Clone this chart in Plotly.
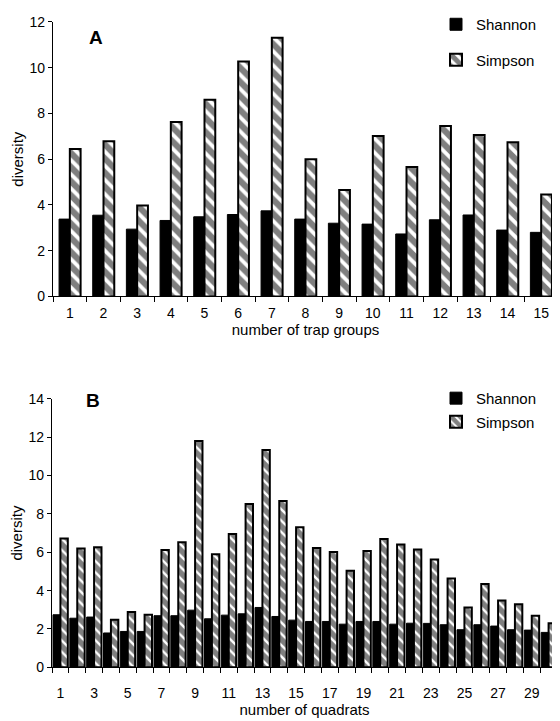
import plotly.graph_objects as go

# Panel A data
groups_a = list(range(1, 16))
shannon_a = [3.38, 3.55, 2.94, 3.32, 3.48, 3.58, 3.74, 3.38, 3.20, 3.16, 2.73, 3.35, 3.56, 2.90, 2.80]
simpson_a = [6.44, 6.78, 3.97, 7.63, 8.60, 10.27, 11.31, 6.00, 4.65, 7.01, 5.66, 7.45, 7.06, 6.74, 4.46]

# Panel B data
quadrats_b = list(range(1, 31))
shannon_b = [2.74, 2.56, 2.62, 1.79, 1.87, 1.87, 2.69, 2.69, 2.98, 2.53,
             2.72, 2.79, 3.12, 2.65, 2.46, 2.39, 2.39, 2.25, 2.39, 2.39,
             2.25, 2.30, 2.29, 2.22, 1.96, 2.22, 2.15, 1.96, 1.94, 1.82]
simpson_b = [6.72, 6.20, 6.26, 2.48, 2.88, 2.74, 6.12, 6.52, 11.80, 5.89,
             6.95, 8.51, 11.33, 8.67, 7.30, 6.22, 6.01, 5.04, 6.07, 6.69,
             6.41, 6.14, 5.62, 4.63, 3.12, 4.35, 3.48, 3.29, 2.69, 2.30]
ticklabels_b = [str(v) for v in range(1, 30, 2)]

# page body has an 8px margin; figure sized so it fits the window
OFF = 8
W, H = 552, 713
FONT = "Liberation Sans, Arial, sans-serif"

def px_x(p):
    return (p - OFF) / W

def px_y(p):
    return 1 - (p - OFF) / H

fig = go.Figure()

hatch_a = dict(shape="\\", fgcolor="black", bgcolor="white", size=10, solidity=0.62)
hatch_b = dict(shape="\\", fgcolor="black", bgcolor="white", size=8, solidity=0.7)

wa = 0.32
fig.add_trace(go.Bar(x=groups_a, y=shannon_a, name="Shannon", width=wa, offset=-wa,
                     marker=dict(color="black", line=dict(color="black", width=1)),
                     xaxis="x", yaxis="y", legend="legend", legendgroup="a1"))
fig.add_trace(go.Bar(x=groups_a, y=simpson_a, name="Simpson", width=wa, offset=0,
                     marker=dict(color="white", pattern=hatch_a, line=dict(color="black", width=2)),
                     xaxis="x", yaxis="y", legend="legend", legendgroup="a2"))

wb = 0.44
fig.add_trace(go.Bar(x=quadrats_b, y=shannon_b, name="Shannon", width=wb, offset=-wb,
                     marker=dict(color="black", line=dict(color="black", width=1)),
                     xaxis="x2", yaxis="y2", legend="legend2", legendgroup="b1"))
fig.add_trace(go.Bar(x=quadrats_b, y=simpson_b, name="Simpson", width=wb, offset=0,
                     marker=dict(color="white", pattern=hatch_b, line=dict(color="black", width=2)),
                     xaxis="x2", yaxis="y2", legend="legend2", legendgroup="b2"))

axis_common = dict(showline=True, linecolor="black", linewidth=1.2, showgrid=False,
                   zeroline=False, tickfont=dict(family=FONT, size=14, color="black"),
                   automargin=False)

fig.update_layout(
    width=W, height=H,
    margin=dict(l=0, r=0, t=0, b=0),
    paper_bgcolor="white", plot_bgcolor="white",
    barmode="overlay",
    font=dict(family=FONT, color="black"),
    xaxis=dict(**axis_common, domain=[px_x(53), px_x(558)], anchor="y",
               range=[0.5, 15.5], tickmode="array", tickvals=groups_a,
               ticktext=[str(g) for g in groups_a], ticks="", ticklabelstandoff=4,
               minor=dict(tickmode="linear", tick0=0.5, dtick=1, ticks="outside",
                          ticklen=5, tickcolor="black", showgrid=False),
               title=dict(text="number of trap groups", font=dict(size=15), standoff=0)),
    yaxis=dict(**axis_common, domain=[px_y(294), px_y(18)], anchor="x",
               range=[0, 12], dtick=2, ticks="outside", ticklen=4, tickcolor="black",
               title=dict(text="diversity", font=dict(size=15), standoff=2)),
    xaxis2=dict(**axis_common, domain=[px_x(52), px_x(557)], anchor="y2",
                range=[0.5, 30.5], tickmode="array", tickvals=list(range(1, 30, 2)),
                ticktext=ticklabels_b, ticks="", ticklabelstandoff=13,
                minor=dict(tickmode="linear", tick0=0.5, dtick=1, ticks="outside",
                           ticklen=5, tickcolor="black", showgrid=False),
                title=dict(text="number of quadrats", font=dict(size=15), standoff=4)),
    yaxis2=dict(**axis_common, domain=[px_y(667), px_y(397)], anchor="x2",
                range=[0, 14], dtick=2, ticks="outside", ticklen=4, tickcolor="black",
                title=dict(text="diversity", font=dict(size=15), standoff=2)),
    legend=dict(x=px_x(436), y=px_y(4), xanchor="left", yanchor="top",
                font=dict(family=FONT, size=15), traceorder="grouped",
                tracegroupgap=13, bgcolor="rgba(0,0,0,0)", itemwidth=30),
    legend2=dict(x=px_x(436), y=px_y(380), xanchor="left", yanchor="top",
                 font=dict(family=FONT, size=15), traceorder="grouped",
                 tracegroupgap=1, bgcolor="rgba(0,0,0,0)", itemwidth=30),
    annotations=[
        dict(text="<b>A</b>", x=px_x(87), y=px_y(21), xref="paper", yref="paper",
             showarrow=False, font=dict(family=FONT, size=19, color="black")),
        dict(text="<b>B</b>", x=px_x(84), y=px_y(399), xref="paper", yref="paper",
             showarrow=False, font=dict(family=FONT, size=19, color="black")),
    ],
)

fig.write_html("out.html")
